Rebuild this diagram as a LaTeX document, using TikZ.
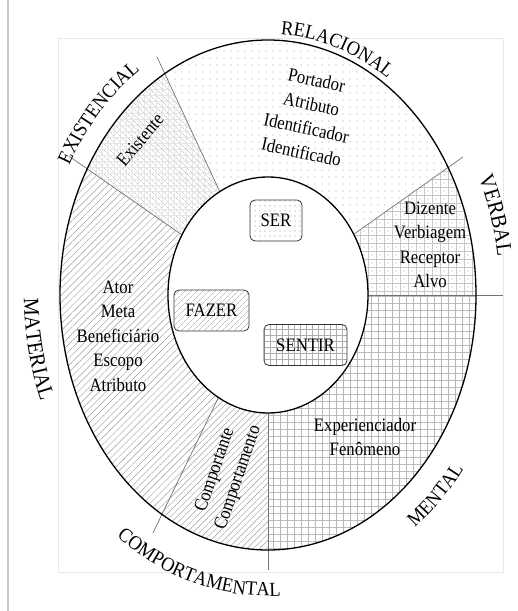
\documentclass[tikz,border=0pt]{standalone}
\usepackage{fontspec}
\setmainfont{Liberation Serif}[FakeStretch=0.88]
\newfontfamily\lblfam{Liberation Serif}[FakeStretch=0.92]
\usetikzlibrary{patterns.meta,decorations.text}
\newcommand\bodyfont{\fontsize{19}{24.5}\selectfont}
\newcommand\lblfont{\lblfam\fontsize{20}{24}\selectfont}
\newcommand\lblbig{\lblfam\fontsize{22}{26}\selectfont}
\begin{document}
\begin{tikzpicture}[x=1pt,y=1pt,
  divider/.style={draw=black!55, line width=0.7pt},
  ring/.style={draw=black, line width=1.3pt},
  procbox/.style={draw=black!80, line width=0.8pt, rounded corners=5pt, font=\bodyfont, minimum height=41pt, inner sep=2pt},
  role/.style={font=\bodyfont, align=center, inner sep=0pt},
  pdots/.style={pattern={Dots[radius=0.65pt, distance=7pt]}, pattern color=black!35},
  pgrid/.style={pattern={Hatch[angle=0, distance=7pt, line width=0.4pt]}, pattern color=black!28},
  pgridw/.style={pattern={Hatch[angle=0, distance=8pt, line width=0.4pt]}, pattern color=black!22},
  pne/.style={pattern={Lines[angle=45, distance=5pt, line width=0.45pt]}, pattern color=black!38},
  pnw/.style={pattern={Lines[angle=-45, distance=4pt, line width=0.4pt]}, pattern color=black!30},
  lbl/.style={decorate, decoration={text along path, text align=center, text={|\lblfont|#1}}},
  lblb/.style={decorate, decoration={text along path, text align=center, text={|\lblbig|#1}}}
]
\useasboundingbox (0,0) rectangle (518,611);
% page line and frame
\draw[black!22, line width=1.5pt] (8,0) -- (8,611);
\draw[black!9, line width=1pt] (58,38) rectangle (503,572);
\coordinate (C) at (268,316);
\begin{scope}[shift={(C)}]
  % sector patterns
  \begin{scope}
    \clip (0,0) ellipse [x radius=208pt, y radius=255pt];
    \fill[white] (0,0) ellipse [x radius=208pt, y radius=255pt];
    % verbal
    \fill[pgridw] (0,0) -- (0:500) -- (17:500) -- (35.3:500) -- cycle;
    \fill[pattern={Dots[radius=0.65pt, distance=8pt, xshift=4pt, yshift=4pt]}, pattern color=black!35] (0,0) -- (0:500) -- (17:500) -- (35.3:500) -- cycle;
    % relacional
    \fill[pdots] (0,0) -- (35.3:500) -- (75:500) -- (115:500) -- cycle;
    % existencial
    \fill[pnw] (0,0) -- (115:500) -- (130:500) -- (145.1:500) -- cycle;
    \fill[pattern={Hatch[angle=0, distance=6pt, line width=0.3pt]}, pattern color=black!10] (0,0) -- (115:500) -- (130:500) -- (145.1:500) -- cycle;
    % material
    \fill[pne] (0,0) -- (145.1:500) -- (195:500) -- (244.2:500) -- cycle;
    % comportamental
    \fill[pattern={Lines[angle=45, distance=4.5pt, line width=0.45pt]}, pattern color=black!38] (0,0) -- (244.2:500) -- (257:500) -- (270:500) -- cycle;
    % mental
    \fill[pgrid] (0,0) -- (270:500) -- (315:500) -- (360:500) -- cycle;
  \end{scope}
  % dividers
  \draw[divider] (0,0) -- (115:262.6);
  \draw[divider] (0,0) -- (145.1:242.7);
  \draw[divider] (0,0) -- (35.3:238.9);
  \draw[divider] (0,0) -- (0:235);
  \draw[divider] (0,0) -- (270:275);
  \draw[divider] (0,0) -- (244.2:264.3);
  % rings
  \fill[white] (0,0) ellipse [x radius=100pt, y radius=118pt];
  \draw[ring] (0,0) ellipse [x radius=100pt, y radius=118pt];
  \draw[ring] (0,0) ellipse [x radius=208pt, y radius=255pt];
  % outer labels
  \path[lbl=RELACIONAL] (102:214pt and 261pt) arc[start angle=102, end angle=42, x radius=214pt, y radius=261pt];
  \path[lbl=EXISTENCIAL] (167:226pt and 273pt) arc[start angle=167, end angle=107, x radius=226pt, y radius=273pt];
  \path[lblb=VERBAL] (48:232pt and 279pt) arc[start angle=48, end angle=-14, x radius=232pt, y radius=279pt];
  \path[lblb=MATERIAL] (161:244pt and 291pt) arc[start angle=161, end angle=222, x radius=244pt, y radius=291pt];
  \path[lbl=COMPORTAMENTAL] (214:254pt and 301pt) arc[start angle=214, end angle=294, x radius=254pt, y radius=301pt];
  \path[lbl=MENTAL] (284:244pt and 291pt) arc[start angle=284, end angle=344, x radius=244pt, y radius=291pt];
\end{scope}
% process boxes
\node[procbox, pattern={Dots[radius=0.7pt, distance=5pt]}, pattern color=black!40, minimum width=52pt] (ser) at (276,390.5) {SER};
\node[procbox, pattern={Lines[angle=45, distance=4pt, line width=0.45pt]}, pattern color=black!40, minimum width=75pt] (fazer) at (211.5,300.5) {FAZER};
\node[procbox, pattern={Hatch[angle=0, distance=6pt, line width=0.4pt]}, pattern color=black!32, minimum width=83pt] (sentir) at (305.5,266) {SENTIR};
% roles
\node[role, rotate=50] (existente) at (140,471) {Existente};
\node[role, rotate=-12] (relroles) at (309,495) {Portador\\Atributo\\Identificador\\Identificado};
\node[role] (verroles) at (430,366) {Dizente\\Verbiagem\\Receptor\\Alvo};
\node[role] (matroles) at (118,275) {Ator\\Meta\\Beneficiário\\Escopo\\Atributo};
\node[role] (menroles) at (365,174) {Experienciador\\Fenômeno};
\node[role, rotate=71] (comroles) at (227,137) {Comportante\\Comportamento};
\end{tikzpicture}
\end{document}
